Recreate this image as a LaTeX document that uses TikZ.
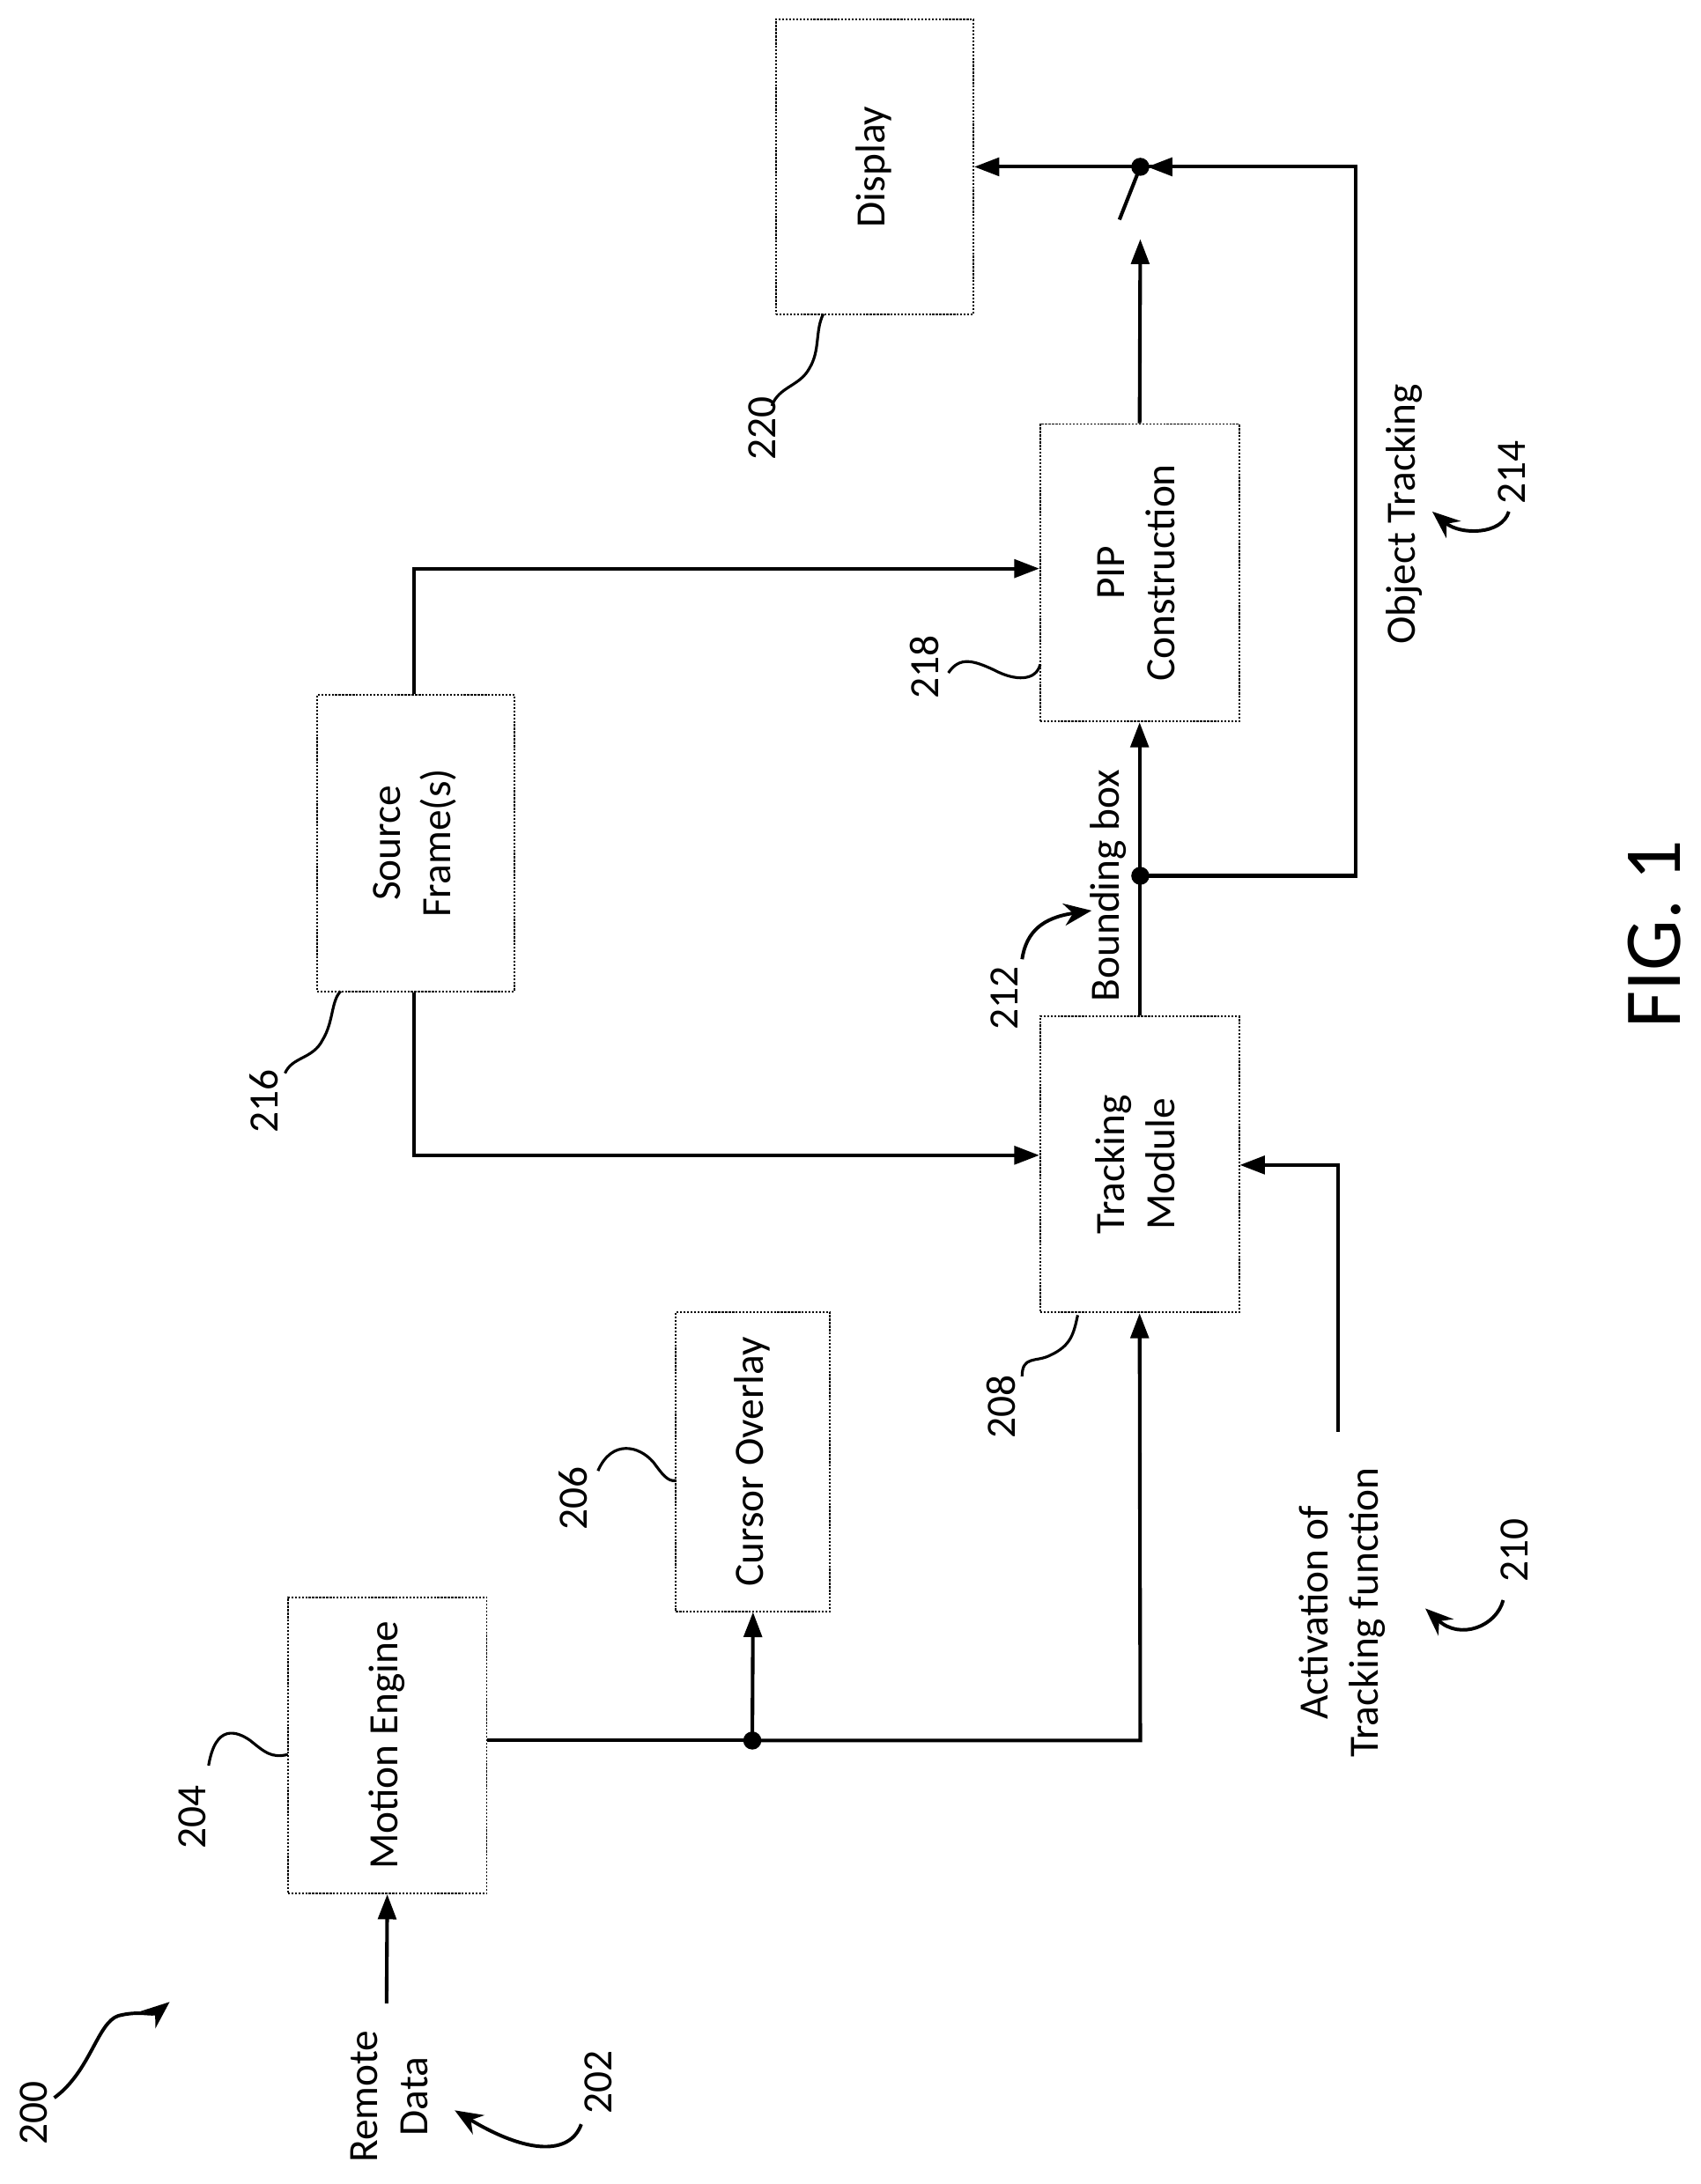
\documentclass[tikz,border=0pt]{standalone}
\usepackage{fontspec}
\setmainfont{Carlito}
\usetikzlibrary{arrows.meta}
\begin{document}
\begin{tikzpicture}[x=1pt,y=-1pt,
 box/.style={draw,line width=1.2pt,dash pattern=on 1.5pt off 1pt,inner sep=0pt,font=\fontsize{30}{36}\selectfont},
 txt/.style={rotate=90,align=center,font=\fontsize{30}{36}\selectfont},
 wire/.style={line width=2.6pt},
 arr/.style={wire,-{Triangle[length=18pt,width=13pt]}},
 lead/.style={line width=2pt},
 leadarr/.style={line width=2.5pt,-{Stealth[length=20pt,width=16pt]}},
 dot/.style={circle,fill,inner sep=0pt,minimum size=13pt}]
\useasboundingbox (0,0) rectangle (1223,1571);
\newcommand\rt[1]{\rotatebox{90}{\begin{tabular}{@{}c@{}}#1\end{tabular}}}
\node[box,minimum width=142pt,minimum height=212pt] (disp) at (629,120) {\rt{Display}};
\node[box,minimum width=142pt,minimum height=213pt] (src) at (299,606.5) {\rt{Source\\Frame(s)}};
\node[box,minimum width=143pt,minimum height=214pt] (pip) at (819.5,412) {\rt{PIP\\Construction}};
\node[box,minimum width=143pt,minimum height=213pt] (trk) at (819.5,837.5) {\rt{Tracking\\Module}};
\node[box,minimum width=111pt,minimum height=215pt] (cur) at (541.5,1051.5) {\rt{Cursor Overlay}};
\node[box,minimum width=143pt,minimum height=213pt] (mot) at (278.5,1255.5) {\rt{Motion Engine}};
% texts
\node[txt] (rd) at (280,1508) {Remote\\Data};
\node[txt] (act) at (965,1160) {Activation of\\Tracking function};
\node[txt] (bb) at (797,637) {Bounding box};
\node[txt] (ot) at (1010,370) {Object Tracking};
\node[txt,font=\fontsize{58}{60}\selectfont] (fig) at (1190,672) {FIG. 1};
\node[txt] (n200) at (24,1520) {200};
\node[txt] (n202) at (430,1498) {202};
\node[txt] (n204) at (138,1307) {204};
\node[txt] (n206) at (412,1078) {206};
\node[txt] (n208) at (720,1012) {208};
\node[txt] (n210) at (1089,1115) {210};
\node[txt] (n212) at (722,718) {212};
\node[txt] (n214) at (1087,340) {214};
\node[txt] (n216) at (190,792) {216};
\node[txt] (n218) at (665,480) {218};
\node[txt] (n220) at (548,308) {220};
% coordinates
\coordinate (rdin) at (278,1441);
\coordinate (j1) at (541,1252);
\coordinate (c1) at (820,1252);
\coordinate (j2) at (820,630);
\coordinate (c2) at (975,630);
\coordinate (c3) at (975,120);
\coordinate (sw) at (820,120);
\coordinate (swe) at (805,158);
\coordinate (pout) at (820,172);
\coordinate (s1) at (298,831);
\coordinate (s2) at (298,409);
\coordinate (a1) at (962,1030);
\coordinate (a2) at (962,838);
% connectors
\draw[arr] (rdin) -- (mot.south);
\draw[wire] (mot.east |- j1) -- (j1);
\draw[arr] (j1) -- (c1) -- (trk.south);
\draw[arr] (j1) -- (cur.south);
\node[dot] at (j1) {};
\draw[arr] (src.south -| s1) -- (s1) -- (trk.west |- s1);
\draw[arr] (src.north -| s2) -- (s2) -- (pip.west |- s2);
\draw[arr] (a1) -- (a2) -- (trk.east |- a2);
\draw[arr] (trk.north) -- (pip.south);
\draw[wire] (j2) -- (c2) -- (c3) -- ([xshift=4pt]sw);
\draw[arr] (c3) -- ([xshift=5pt]sw);
\node[dot] at (j2) {};
\draw[arr] (pip.north) -- (pout);
\draw[arr] (sw) -- (disp.east |- sw);
\draw[wire] (sw) -- (swe);
\node[dot] at (sw) {};
% leaders
\draw[leadarr] (39,1509) .. controls (65,1490) and (70,1455) .. (85,1450) .. controls (100,1446) and (110,1450) .. (122,1440);
\draw[leadarr] (418,1528) .. controls (410,1550) and (380,1550) .. (327,1518);
\draw[lead] (150,1270) .. controls (155,1240) and (170,1245) .. (180,1252) .. controls (190,1260) and (195,1265) .. (207,1262);
\draw[lead] (430,1058) .. controls (440,1035) and (460,1040) .. (470,1052) .. controls (476,1060) and (480,1066) .. (486,1065);
\draw[lead] (735,990) .. controls (735,975) and (745,980) .. (755,975) .. controls (770,968) and (772,960) .. (775,946);
\draw[leadarr] (1081,1151) .. controls (1076,1170) and (1050,1180) .. (1025,1157);
\draw[leadarr] (735,690) .. controls (738,670) and (750,660) .. (785,655);
\draw[leadarr] (1085,368) .. controls (1080,385) and (1050,385) .. (1030,368);
\draw[lead] (205,772) .. controls (210,760) and (225,762) .. (232,748) .. controls (240,735) and (238,720) .. (245,713);
\draw[lead] (682,484) .. controls (690,472) and (700,475) .. (715,482) .. controls (730,490) and (745,490) .. (748,478);
\draw[lead] (555,292) .. controls (560,278) and (575,278) .. (582,265) .. controls (590,252) and (586,238) .. (592,226);
\end{tikzpicture}
\end{document}
